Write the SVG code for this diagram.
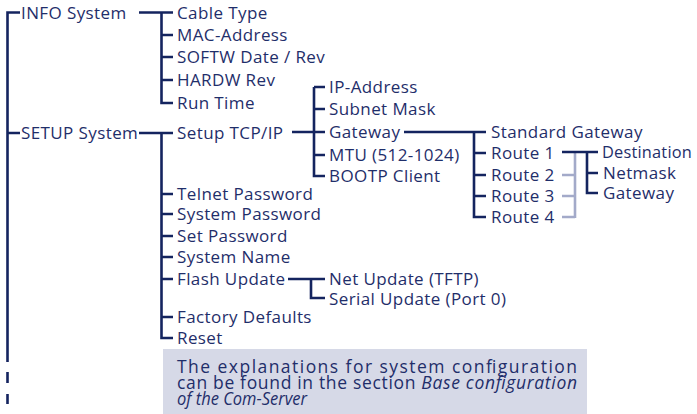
<svg xmlns="http://www.w3.org/2000/svg" width="697" height="414" viewBox="0 0 697 414">
<style>
text{font-family:"Open Sans","Noto Sans",sans-serif;font-size:17px;fill:#1f2e6a;letter-spacing:0.4px}
.ln{stroke:#14245f;stroke-width:2.6;fill:none}
.lt{stroke:#a3aac9;stroke-width:2.6;fill:none}
.note{font-size:17.5px;letter-spacing:0px}
</style>
<g id="connectors">
<path class="ln" d="M20,12.5H7.5V362M7.5,372V383M7.5,394V404M7.5,133H20"/>
<path class="ln" d="M139,12.5H173M161.5,12.5V103H173M161.5,35H173M161.5,57H173M161.5,80H173"/>
<path class="ln" d="M139,133H173M161.5,133V338H173M161.5,194H173M161.5,214H173M161.5,236H173M161.5,257H173M161.5,279H173M161.5,317H173"/>
<path class="ln" d="M292,132H325M314,87H325M314,87V176H325M314,109H325M314,155H325"/>
<path class="ln" d="M404,132H486M474,132V217H486M474,153H486M474,175H486M474,196H486"/>
<path class="lt" d="M562,175H575M562,196H575M562,217H575M575,152V218"/>
<path class="ln" d="M562,152H598M587,152V193H598M587,173H598"/>
<path class="ln" d="M288,279H325M311,279V298H325"/>
</g>
<g id="info"><text x="21" y="18.5">INFO System</text></g>
<g id="info-children">
<text x="177" y="18.5">Cable Type</text>
<text x="177" y="41">MAC-Address</text>
<text x="177" y="63">SOFTW Date / Rev</text>
<text x="177" y="86">HARDW Rev</text>
<text x="177" y="109">Run Time</text>
</g>
<g id="setup"><text x="21" y="139">SETUP System</text></g>
<g id="setup-children">
<text x="177" y="139">Setup TCP/IP</text>
<text x="177" y="200">Telnet Password</text>
<text x="177" y="220">System Password</text>
<text x="177" y="242">Set Password</text>
<text x="177" y="263">System Name</text>
<text x="177" y="285">Flash Update</text>
<text x="177" y="323">Factory Defaults</text>
<text x="177" y="344">Reset</text>
</g>
<g id="tcpip-children">
<text x="329" y="93">IP-Address</text>
<text x="329" y="115">Subnet Mask</text>
<text x="329" y="138">Gateway</text>
<text x="329" y="161">MTU (512-1024)</text>
<text x="329" y="182">BOOTP Client</text>
</g>
<g id="gateway-children">
<text x="491" y="138">Standard Gateway</text>
<text x="491" y="159">Route 1</text>
<text x="491" y="181">Route 2</text>
<text x="491" y="202">Route 3</text>
<text x="491" y="223">Route 4</text>
</g>
<g id="route-children">
<text x="602" y="158" style="letter-spacing:0.2px" textLength="90" lengthAdjust="spacingAndGlyphs">Destination</text>
<text x="603" y="179">Netmask</text>
<text x="603" y="199">Gateway</text>
</g>
<g id="flash-children">
<text x="329" y="285">Net Update (TFTP)</text>
<text x="329" y="305">Serial Update (Port 0)</text>
</g>
<g id="note">
<rect x="163" y="349" width="424" height="65" fill="#d6d9e7"/>
<text class="note" x="177" y="373" textLength="400" lengthAdjust="spacing">The explanations for system configuration</text>
<text class="note" x="177" y="389" textLength="400" lengthAdjust="spacing">can be found in the section <tspan font-style="italic">Base configuration</tspan></text>
<text class="note" x="177" y="405" font-style="italic" textLength="130" lengthAdjust="spacingAndGlyphs">of the Com-Server</text>
</g>
</svg>
